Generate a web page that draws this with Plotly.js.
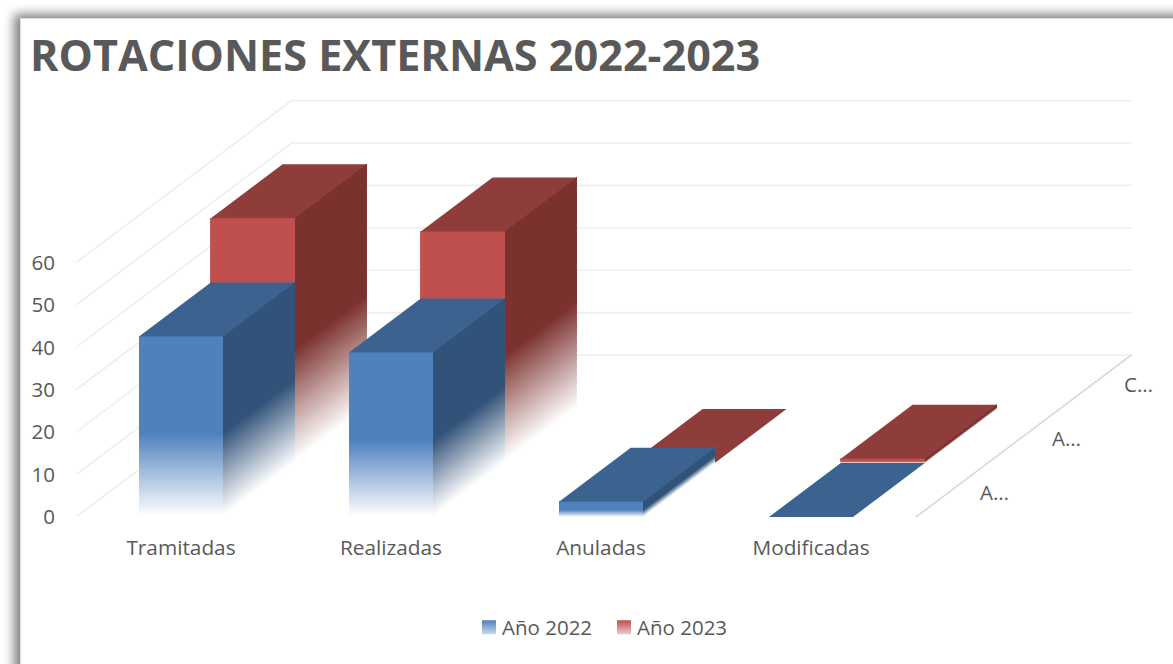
<!DOCTYPE html>
<html>
<head>
<meta charset="utf-8">
<script src="https://cdn.plot.ly/plotly-3.0.1.min.js"></script>
<style>
html,body{margin:0;padding:0;width:1173px;height:664px;overflow:hidden;background:#fff;}
#panel{position:absolute;left:20px;top:18px;width:1200px;height:700px;background:#fff;border:1px solid #dcdcdc;box-sizing:border-box;box-shadow:-3px -1px 10px 3px #808080;}
#chart{position:absolute;left:0;top:0;width:1173px;height:664px;}
</style>
</head>
<body>
<div id="panel"></div>
<div id="chart"></div>
<script>
// ---- data ----
const categories = ["Tramitadas", "Realizadas", "Anuladas", "Modificadas"];
const values2022 = [42.6, 38.8, 3.6, 0];
const values2023 = [57.7, 54.6, 0, 1];
const seriesNames = ["Año 2022", "Año 2023"];
const depthLabels = ["A…", "A…", "C…"];
const yTicks = [0, 10, 20, 30, 40, 50, 60];

// ---- styles ----
const blue = {front:[79,129,189], side:[50,83,121], top:[60,98,144]};
const red  = {front:[192,80,77],  side:[123,50,47], top:[143,61,58]};
const textColor = "#595959";
const font = "'Open Sans', sans-serif";

// ---- oblique depth projection, expressed in axis units ----
const W = 1173, H = 664;
const mL = 76, mB = 147, mT = 90, mR = 30;
const pxPerCat = 210, pxPerVal = 4.24;
const depthX = 71.8 / pxPerCat, depthY = 54 / pxPerVal;
const barW = 84 / pxPerCat;
const plotW = W - mL - mR, plotH = H - mT - mB;
const xRange = [-0.5, -0.5 + plotW / pxPerCat];
const yRange = [0, plotH / pxPerVal];

const mix = (c, t) => "rgb(" + c.map(v => Math.round(v + (255 - v) * t)).join(",") + ")";
const traces = [];

// walls and floor
const gridX = [], gridY = [];
yTicks.forEach(v => {
  gridX.push(-0.5, -0.5 + 3 * depthX, 3.5 + 3 * depthX, null);
  gridY.push(v, v + 3 * depthY, v + 3 * depthY, null);
});
traces.push({x: gridX, y: gridY, mode: "lines", line: {color: "#eeeeee", width: 1.6}, hoverinfo: "skip", showlegend: false});
traces.push({x: [3.5, 3.5 + 3 * depthX], y: [0, 3 * depthY], mode: "lines", line: {color: "#d9d9d9", width: 1.6}, hoverinfo: "skip", showlegend: false});

const fadeShare = 0.46, fadeSteps = 40;

function addPoly(xs, ys, color) {
  traces.push({x: xs, y: ys, mode: "none", fill: "toself", fillcolor: color, hoverinfo: "skip", showlegend: false});
}

// Each band reaches from its own lower edge to the top of the bar and is painted
// over the previous one, so the fade has no seams.
function addSeries(values, depth, pal) {
  const ox = depth * depthX, oy = depth * depthY;
  ["side", "front"].forEach(face => {
    for (let k = 0; k <= fadeSteps; k++) {
      const xs = [], ys = [];
      values.forEach((v, i) => {
        if (v <= 0) return;
        const l = i - barW / 2 + ox, r = i + barW / 2 + ox;
        const h0 = oy + v * fadeShare * k / fadeSteps;
        const h1 = oy + v;
        if (face === "front") {
          xs.push(l, r, r, l, l, null);
          ys.push(h0, h0, h1, h1, h0, null);
        } else {
          xs.push(r, r + depthX, r + depthX, r, r, null);
          ys.push(h0, h0 + depthY, h1 + depthY, h1, h0, null);
        }
      });
      const t = 1 - k / fadeSteps;
      if (xs.length) addPoly(xs, ys, mix(pal[face], t));
    }
  });
  const tx = [], ty = [];
  values.forEach((v, i) => {
    const l = i - barW / 2 + ox, r = i + barW / 2 + ox, h = v + oy;
    tx.push(l, r, r + depthX, l + depthX, l, null);
    ty.push(h, h, h + depthY, h + depthY, h, null);
  });
  addPoly(tx, ty, mix(pal.top, 0));
}

addSeries(values2023, 1, red);
addSeries(values2022, 0, blue);

// legend entries
[[seriesNames[0], blue], [seriesNames[1], red]].forEach(s => {
  traces.push({x: [null], y: [null], name: s[0], mode: "markers", hoverinfo: "skip",
    marker: {symbol: "square", size: 14, color: mix(s[1].front, 0),
      gradient: {type: "vertical", color: mix(s[1].front, 0.7)}}});
});

const annotations = depthLabels.map((t, d) => ({
  text: t, x: 3.5 + (d + 0.5) * depthX, y: (d + 0.5) * depthY, xref: "x", yref: "y",
  xanchor: "left", yanchor: "middle", xshift: 26, yshift: -2, showarrow: false,
  font: {family: font, size: 20.5, color: textColor}
}));

const layout = {
  width: W, height: H, autosize: false,
  margin: {l: mL, r: mR, t: mT, b: mB, pad: 0},
  paper_bgcolor: "rgba(0,0,0,0)", plot_bgcolor: "rgba(0,0,0,0)",
  title: {text: "<b>ROTACIONES EXTERNAS 2022-2023</b>", x: 30 / W, xref: "container", xanchor: "left",
    y: 1 - 56 / H, yref: "container", yanchor: "middle",
    font: {family: font, size: 43.2, color: textColor}},
  xaxis: {range: xRange, tickvals: categories.map((c, i) => i), ticktext: categories, showgrid: false,
    zeroline: false, showline: false, ticks: "", ticklabelstandoff: 16, fixedrange: true,
    tickfont: {family: font, size: 20.8, color: textColor}},
  yaxis: {range: yRange, tickvals: yTicks, ticktext: yTicks.map(String), showgrid: false,
    zeroline: false, showline: false, ticks: "", ticklabelstandoff: 20, fixedrange: true,
    tickfont: {family: font, size: 20.5, color: textColor}},
  legend: {orientation: "h", x: (462 - mL) / plotW, xanchor: "left", y: -(627.5 - (H - mB)) / plotH,
    yanchor: "middle", yref: "paper", font: {family: font, size: 20.5, color: textColor}, itemsizing: "trace",
    entrywidth: 90, entrywidthmode: "pixels", bgcolor: "rgba(0,0,0,0)"},
  annotations: annotations
};
Plotly.newPlot("chart", traces, layout, {displayModeBar: false, staticPlot: true}).then(() => {
  // tighten the gap between legend swatch and label
  document.querySelectorAll("#chart .legend .legendpoints path.scatterpts").forEach(p => {
    p.setAttribute("transform", "translate(27,0)");
  });
});
</script>
</body>
</html>
